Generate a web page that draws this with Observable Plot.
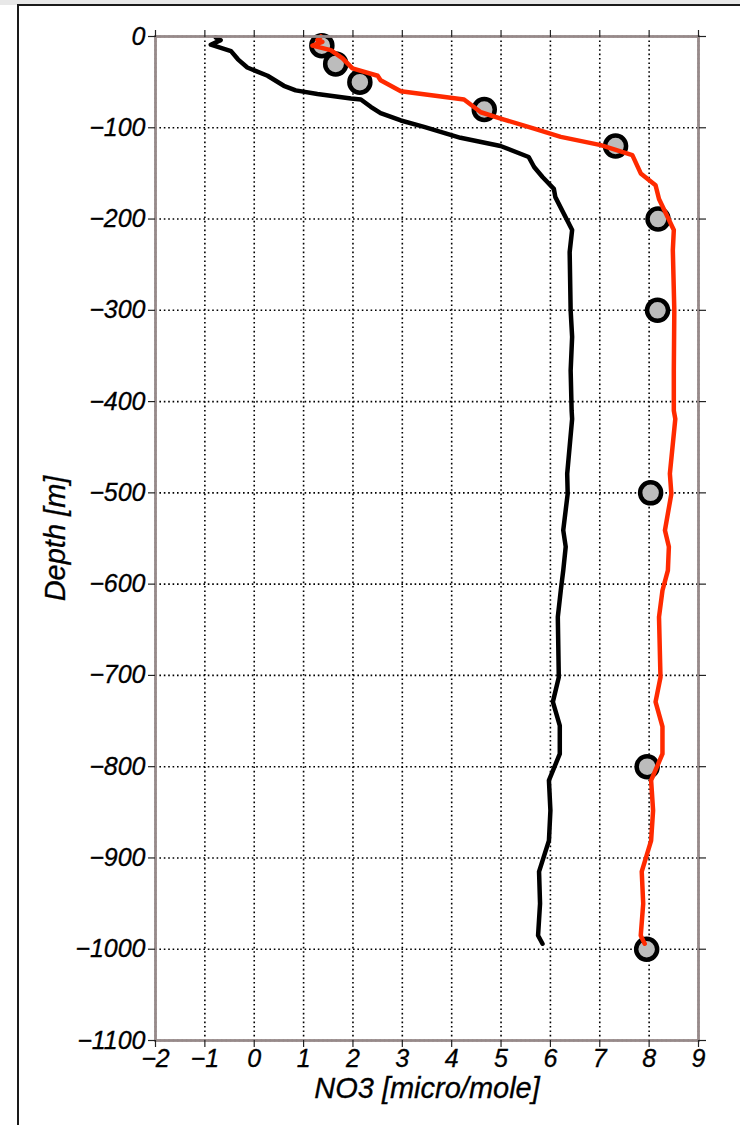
<!DOCTYPE html>
<html><head><meta charset="utf-8">
<script src="https://cdn.jsdelivr.net/npm/d3@7"></script>
<script src="https://cdn.jsdelivr.net/npm/@observablehq/plot@0.6"></script>
<style>
html,body{margin:0;padding:0;background:#fff;}
#page{position:relative;width:740px;height:1125px;overflow:hidden;background:#fff;}
#topband{position:absolute;left:0;top:0;width:740px;height:5px;background:#e8e8e8;}
#border{position:absolute;left:17px;top:4px;width:800px;height:1200px;border:2px solid #1a1a1a;box-sizing:border-box;background:#fff;}
#chart{position:absolute;left:0;top:0;}
</style></head><body>
<div id="page"><div id="topband"></div><div id="border"></div><div id="chart"></div></div>
<script>
// Tick values
const xTicks = [-2, -1, 0, 1, 2, 3, 4, 5, 6, 7, 8, 9];
const yTicks = [0, -100, -200, -300, -400, -500, -600, -700, -800, -900, -1000, -1100];

// Black profile (NO3, depth)
const blackNO3 = [-0.78, -0.68, -0.88, -0.47, -0.33, -0.14, 0.27, 0.6, 0.84, 1.28, 1.96, 2.16, 2.36, 2.56, 2.97, 3.44, 4.18, 4.99, 5.56, 5.67, 5.84, 6.07, 6.1, 6.44, 6.39, 6.41, 6.44, 6.41, 6.43, 6.44, 6.34, 6.35, 6.26, 6.31, 6.26, 6.21, 6.15, 6.17, 6.05, 6.19, 6.19, 5.97, 6.0, 5.97, 5.77, 5.79, 5.75, 5.84];
const blackDepth = [-1, -4, -9, -16, -25, -34, -43, -54, -59, -63, -68, -69, -77, -84, -92, -99, -111, -120, -132, -143, -154, -167, -176, -212, -236, -300, -329, -366, -410, -419, -479, -501, -541, -559, -585, -607, -636, -702, -729, -755, -786, -815, -848, -881, -915, -950, -985, -994];

// Red profile (NO3, depth)
const redNO3 = [1.35, 1.28, 1.38, 1.18, 1.55, 1.79, 1.99, 2.5, 2.56, 2.97, 4.25, 4.59, 5.06, 5.67, 6.21, 7.02, 7.66, 7.83, 8.13, 8.2, 8.5, 8.48, 8.51, 8.5, 8.5, 8.53, 8.42, 8.45, 8.32, 8.4, 8.38, 8.27, 8.2, 8.23, 8.13, 8.27, 8.27, 8.04, 8.08, 8.04, 7.85, 7.88, 7.83, 7.91];
const redDepth = [0, -4, -6, -10, -15, -24, -35, -43, -48, -60, -69, -83, -91, -101, -110, -119, -130, -150, -163, -178, -212, -234, -300, -366, -410, -419, -479, -501, -541, -559, -585, -607, -636, -702, -729, -756, -786, -815, -848, -881, -915, -950, -985, -994];

// Observations
const obsNO3 = [1.37, 1.65, 2.14, 4.66, 7.32, 8.18, 8.17, 8.03, 7.96, 7.95];
const obsDepth = [-10, -30, -50, -80, -120, -200, -300, -500, -800, -1000];

const xTitle = "NO3 [micro/mole]";
const yTitle = "Depth [m]";

const blackRows = blackDepth.map((d, i) => ({x: blackNO3[i], y: d}));
const redRows = redDepth.map((d, i) => ({x: redNO3[i], y: d}));
const obsRows = obsDepth.map((d, i) => ({x: obsNO3[i], y: d}));

const fmt = d => (d < 0 ? "\u2212" : "") + Math.abs(d);
const gridStyle = {stroke: "#000", strokeOpacity: 1, strokeWidth: 1.6, strokeDasharray: "1.6,2.8"};
const tickStyle = {tickSize: 7, stroke: "#222", strokeWidth: 1.2, label: null, fontSize: 25, tickFormat: fmt};

const plot = Plot.plot({
  width: 740, height: 1125,
  marginLeft: 155, marginRight: 42, marginTop: 36, marginBottom: 85,
  style: {background: "transparent", fontFamily: "'Liberation Sans', Arial, sans-serif", fontStyle: "italic", overflow: "visible", color: "#000"},
  x: {domain: [-2, 9]},
  y: {domain: [-1100, 0]},
  marks: [
    Plot.gridX(xTicks, gridStyle),
    Plot.gridY(yTicks, gridStyle),
    Plot.line(blackRows, {x: "x", y: "y", stroke: "#000", strokeWidth: 4.5}),
    Plot.dot(obsRows, {x: "x", y: "y", r: 10.5, fill: "#bcbcbc", stroke: "#000", strokeWidth: 4.5}),
    Plot.line(redRows, {x: "x", y: "y", stroke: "#ff2a00", strokeWidth: 4.5}),
    Plot.frame({stroke: "#978a8a", strokeWidth: 2.8}),
    Plot.axisX(xTicks, {...tickStyle, anchor: "bottom", tickPadding: 2}),
    Plot.axisX(xTicks, {...tickStyle, anchor: "top", tickFormat: () => ""}),
    Plot.axisY(yTicks, {...tickStyle, anchor: "left", tickPadding: 3}),
    Plot.axisY(yTicks, {...tickStyle, anchor: "right", tickFormat: () => ""}),
    Plot.text([xTitle], {text: d => d, frameAnchor: "bottom", textAnchor: "middle", dy: 57, fontSize: 29}),
    Plot.text([yTitle], {text: d => d, frameAnchor: "left", textAnchor: "middle", dx: -100, rotate: -90, fontSize: 29})
  ]
});

document.getElementById("chart").append(plot);

plot.querySelectorAll("text").forEach(t => {
  if (!t.textContent.trim()) return;
  const isTitle = t.textContent === xTitle || t.textContent === yTitle;
  t.style.fontSize = isTitle ? "29px" : "25px";
  t.style.stroke = "#000";
  t.style.strokeWidth = "0.3px";
});
</script>
</body></html>
